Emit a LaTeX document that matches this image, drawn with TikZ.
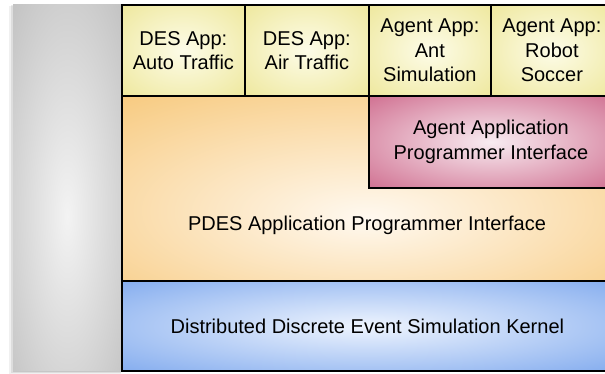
\documentclass[tikz,border=0pt]{standalone}
\usepackage{fontspec}
\setmainfont{Liberation Sans}
\usetikzlibrary{positioning}
\definecolor{yelIn}{HTML}{FDFCE8}
\definecolor{yelOut}{HTML}{EAE288}
\definecolor{orgIn}{HTML}{FFF9F0}
\definecolor{orgOut}{HTML}{F6C26C}
\definecolor{pnkIn}{HTML}{F8ECF1}
\definecolor{pnkOut}{HTML}{C65078}
\definecolor{bluIn}{HTML}{EEF4FE}
\definecolor{bluOut}{HTML}{6698EA}
\definecolor{gryIn}{HTML}{F3F3F3}
\definecolor{gryOut}{HTML}{B2B2B2}
\pgfdeclareradialshading{yelsh}{\pgfpoint{0bp}{0bp}}{color(0bp)=(yelIn); color(46bp)=(yelOut); color(80bp)=(yelOut)}
\pgfdeclareradialshading{orgsh}{\pgfpoint{0bp}{-8bp}}{color(0bp)=(orgIn); color(46bp)=(orgOut); color(90bp)=(orgOut)}
\pgfdeclareradialshading{pnksh}{\pgfpoint{0bp}{0bp}}{color(0bp)=(pnkIn); color(45bp)=(pnkOut); color(80bp)=(pnkOut)}
\pgfdeclareradialshading{blush}{\pgfpoint{0bp}{0bp}}{color(0bp)=(bluIn); color(46bp)=(bluOut); color(80bp)=(bluOut)}
\pgfdeclareradialshading{grysh}{\pgfpoint{0bp}{-4bp}}{color(0bp)=(gryIn); color(50bp)=(gryOut); color(80bp)=(gryOut)}
\begin{document}
\begin{tikzpicture}[x=1pt,y=-1pt,
  box/.style={draw=black, line width=1.8pt, anchor=north west, inner sep=0pt,
    align=center, font=\fontsize{20pt}{24.5pt}\selectfont},
  lbl/.style={inner sep=0pt, align=center, font=\fontsize{20pt}{24.5pt}\selectfont}]
\useasboundingbox (0,0) rectangle (605,373);
% gray column with soft shadow
\fill[black, opacity=0.06] (9,6) rectangle (121,374);
\fill[black, opacity=0.08] (11,5) rectangle (121,372.5);
\fill[black, opacity=0.10] (12.5,4.5) rectangle (121,371.5);
\node[anchor=north west, inner sep=0pt, shading=grysh, minimum width=108pt, minimum height=366pt] (side) at (13,4) {};
% PDES layer
\node[box, shading=orgsh, minimum width=491pt, minimum height=185pt] (pdesbox) at (121,95) {};
\node[lbl] (pdes) at (367,225) {PDES Application Programmer Interface};
% kernel
\node[box, shading=blush, minimum width=491pt, minimum height=90pt] (kernel) at (121,280) {Distributed Discrete Event Simulation Kernel};
% agent API
\node[box, shading=pnksh, minimum width=244pt, minimum height=92pt] (agentapi) at (368,95) {Agent Application\\Programmer Interface};
% applications
\node[box, shading=yelsh, minimum width=123pt, minimum height=91pt] (auto) at (121,4) {DES App:\\Auto Traffic};
\node[box, shading=yelsh, minimum width=124pt, minimum height=91pt] (air) at (244,4) {DES App:\\Air Traffic};
\node[box, shading=yelsh, minimum width=122pt, minimum height=91pt] (ant) at (368,4) {Agent App:\\Ant\\Simulation};
\node[box, shading=yelsh, minimum width=122pt, minimum height=91pt] (soccer) at (490,4) {Agent App:\\Robot\\Soccer};
\end{tikzpicture}
\end{document}
